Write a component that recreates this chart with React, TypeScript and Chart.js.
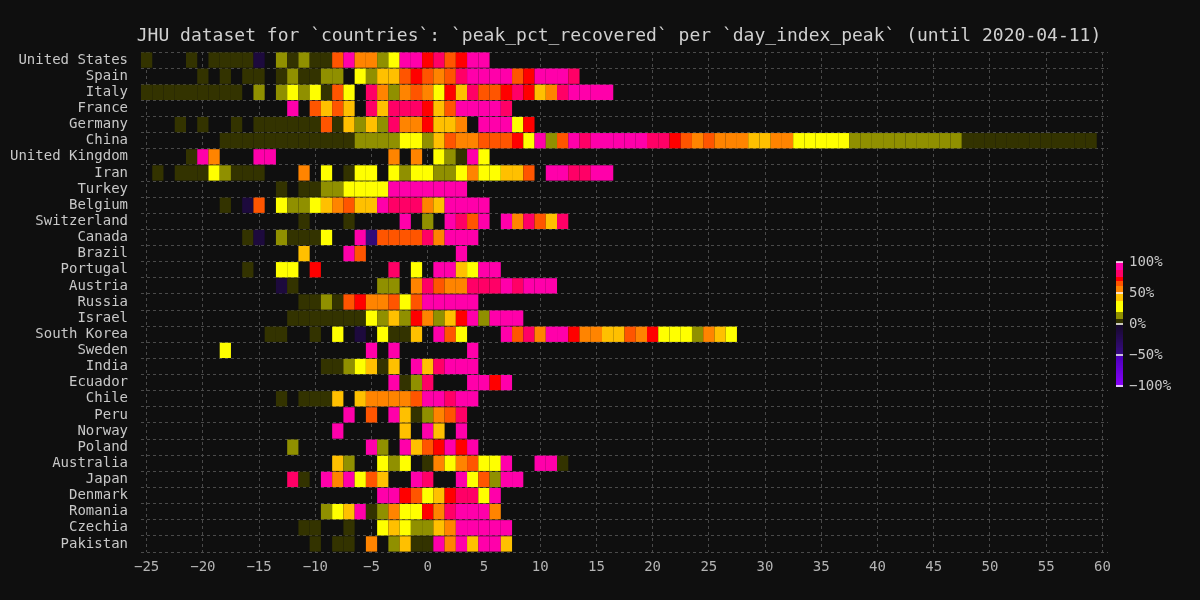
import { useEffect, useRef } from "react";
import { Chart, registerables } from "chart.js";
Chart.register(...registerables);

const _ = null;
const gap = (n: number) => new Array(n).fill(null);
const FIRST_DAY = -25;

const countries = [
  "United States", "Spain", "Italy", "France", "Germany", "China", "United Kingdom", "Iran",
  "Turkey", "Belgium", "Switzerland", "Canada", "Brazil", "Portugal", "Austria", "Russia",
  "Israel", "South Korea", "Sweden", "India", "Ecuador", "Chile", "Peru", "Norway",
  "Poland", "Australia", "Japan", "Denmark", "Romania", "Czechia", "Pakistan",
];

// peak_pct_recovered per day_index_peak, starting at day -25 (null = no data)
const unitedStates = [5,_,_,_,5,_,5,5,5,5,-10,_,15,5,15,5,5,65,100,55,55,15,30,100,100,75,85,65,75,100,100];
const spain = [_,_,_,_,_,5,_,5,_,5,5,_,5,15,5,5,15,15,_,30,15,45,45,65,75,65,55,65,85,100,100,100,100,65,75,100,100,100,85];
const italy = [5,5,5,5,5,5,5,5,5,_,15,_,15,30,15,30,5,65,30,_,85,55,15,55,65,55,30,75,45,85,65,65,75,85,75,45,55,85,100,100,100,100];
const france = [...gap(13),100,_,65,45,65,45,_,85,45,85,85,85,75,45,65,100,100,100,100,85];
const germany = [_,_,_,5,_,5,_,_,5,_,5,5,5,5,5,5,65,5,45,15,45,15,85,55,55,75,45,45,55,_,100,100,100,30,75];
const china = [...gap(7),5,5,5,5,5,5,5,5,5,5,5,5,15,15,15,15,30,30,15,45,65,55,55,65,65,65,75,30,100,15,65,100,85,100,100,100,100,100,85,85,75,65,55,65,55,55,55,45,45,55,55,30,30,30,30,30,15,15,15,15,15,15,15,15,15,15,5,5,5,5,5,5,5,5,5,5,5,5];
const unitedKingdom = [_,_,_,_,5,100,55,_,_,_,100,100,...gap(10),55,_,55,_,30,15,5,100,30];
const iran = [_,5,_,5,5,5,30,15,5,5,5,_,_,_,55,_,30,_,5,30,30,_,30,15,30,30,15,15,30,55,30,30,45,45,65,_,100,100,85,85,100,100];
const turkey = [...gap(12),5,_,5,5,15,15,30,30,30,30,100,100,100,100,100,100,100];
const belgium = [...gap(7),5,_,-10,65,_,30,15,15,30,45,55,65,45,45,100,85,85,85,55,45,100,100,100,100];
const switzerland = [...gap(14),5,_,_,_,5,_,_,_,_,100,_,15,_,100,85,65,100,_,100,55,85,65,45,85];
const canada = [...gap(9),5,-10,_,15,5,5,5,30,_,_,100,-40,65,65,65,65,85,55,100,100,100];
const brazil = [...gap(14),45,_,_,_,100,65,...gap(8),100];
const portugal = [...gap(9),5,_,_,30,30,_,75,...gap(6),85,_,30,_,100,100,45,30,100,100];
const austria = [...gap(12),-10,5,...gap(7),15,15,_,55,85,65,55,55,85,85,85,100,85,100,100,100];
const russia = [...gap(14),5,5,15,5,65,75,55,55,65,30,65,100,100,100,100,100];
const israel = [...gap(13),5,5,5,5,5,5,5,30,15,45,15,75,55,15,45,75,100,15,100,100,100];
const southKorea = [...gap(11),5,5,_,_,5,_,30,_,-10,_,30,5,5,45,_,100,65,30,_,_,_,100,65,85,55,100,100,75,55,55,45,45,65,55,75,30,30,30,15,55,45,30];
const sweden = [...gap(7),30,...gap(12),100,_,100,...gap(6),100];
const india = [...gap(16),5,5,15,30,45,5,45,_,100,45,85,100,100,100];
const ecuador = [...gap(22),100,5,15,85,_,_,_,100,100,75,100];
const chile = [...gap(12),5,_,5,5,5,45,_,45,55,55,55,55,65,100,100,85,100,100];
const peru = [...gap(18),100,_,65,_,100,45,5,15,55,65,85];
const norway = [...gap(17),100,_,_,_,_,_,45,_,100,45,_,100];
const poland = [...gap(13),15,...gap(6),100,15,_,100,45,65,75,100,75,100];
const australia = [...gap(17),45,15,_,_,30,15,30,_,5,55,30,55,65,30,30,100,_,_,100,100,5];
const japan = [...gap(13),85,5,_,100,55,100,30,65,45,_,_,100,85,_,_,100,30,65,15,100,100];
const denmark = [...gap(21),100,100,75,65,30,45,75,85,85,30,100];
const romania = [...gap(16),15,30,45,100,5,15,55,30,30,75,55,85,100,100,100,55];
const czechia = [...gap(14),5,5,_,_,5,_,_,30,45,30,15,15,45,55,100,100,100,100,100];
const pakistan = [...gap(15),5,_,5,5,_,55,_,15,45,5,5,100,55,100,45,100,100,45];

const series = [
  unitedStates, spain, italy, france, germany, china, unitedKingdom, iran,
  turkey, belgium, switzerland, canada, brazil, portugal, austria, russia,
  israel, southKorea, sweden, india, ecuador, chile, peru, norway,
  poland, australia, japan, denmark, romania, czechia, pakistan,
];

const xTicks = [-25, -20, -15, -10, -5, 0, 5, 10, 15, 20, 25, 30, 35, 40, 45, 50, 55, 60];
const colorbarTicks = [100, 50, 0, -50, -100];
const TITLE = "JHU dataset for `countries`: `peak_pct_recovered` per `day_index_peak` (until 2020-04-11)";

const FONT = "'DejaVu Sans Mono', monospace";
const BG = "#0f0f0f";

function hex(c: string) {
  return [parseInt(c.slice(1, 3), 16), parseInt(c.slice(3, 5), 16), parseInt(c.slice(5, 7), 16)];
}
function lerp(a: string, b: string, t: number) {
  const A = hex(a), B = hex(b);
  const r = A.map((v, i) => Math.round(v + (B[i] - v) * t));
  return `rgb(${r[0]},${r[1]},${r[2]})`;
}
function colorFor(v: number) {
  if (v < 0) {
    const t = -v / 100;
    if (t <= 0.5) return lerp("#160a2a", "#3a0a8a", t / 0.5);
    return lerp("#4a00b8", "#8c00ff", (t - 0.5) / 0.5);
  }
  if (v < 9) return "#333300";
  if (v < 20) return "#909000";
  if (v < 39) return "#ffff00";
  if (v < 50) return "#ffc000";
  if (v < 62) return "#ff8400";
  if (v < 71) return "#ff5500";
  if (v < 78) return "#ff0000";
  if (v < 89) return "#ff0066";
  return "#ff00aa";
}

export default function App() {
  const ref = useRef<HTMLCanvasElement | null>(null);
  useEffect(() => {
    document.body.style.margin = "0";
    document.body.style.background = BG;
    const canvas = ref.current;
    if (!canvas) return;

    const cells: { x: number[]; y: string; v: number }[] = [];
    series.forEach((vals, ci) => {
      vals.forEach((v, i) => {
        if (v === null || v === undefined) return;
        const d = FIRST_DAY + i;
        cells.push({ x: [d - 0.5, d + 0.5], y: countries[ci], v: v as number });
      });
    });

    const bgPlugin = {
      id: "bg",
      beforeDraw(chart: any) {
        const c = chart.ctx;
        c.save();
        c.fillStyle = BG;
        c.fillRect(0, 0, chart.width, chart.height);
        c.restore();
      },
    };

    const decorPlugin = {
      id: "decor",
      afterDraw(chart: any) {
        const c = chart.ctx;
        c.save();
        // title
        c.fillStyle = "#d0d0d0";
        c.font = `18px ${FONT}`;
        c.textAlign = "center";
        c.textBaseline = "middle";
        c.fillText(TITLE, 619, 36);
        // colorbar
        const cbX = 1116, cbW = 7, cbTop = 262, cbBottom = 386;
        const yOf = (p: number) => cbTop + ((100 - p) / 200) * (cbBottom - cbTop);
        for (let p = -100; p < 100; p++) {
          c.fillStyle = colorFor(p + 0.5);
          const y1 = yOf(p + 1), y2 = yOf(p);
          c.fillRect(cbX, Math.floor(y1), cbW, Math.ceil(y2 - y1) + 1);
        }
        c.strokeStyle = "#ffffff";
        c.lineWidth = 1.5;
        c.fillStyle = "#c8c8c8";
        c.font = `14px ${FONT}`;
        c.textAlign = "left";
        for (const t of colorbarTicks) {
          const y = yOf(t);
          c.beginPath();
          c.moveTo(cbX, y);
          c.lineTo(cbX + cbW, y);
          c.stroke();
          c.fillText(`${t}%`.replace("-", "\u2212"), cbX + cbW + 6, y);
        }
        c.restore();
      },
    };

    const chart = new Chart(canvas, {
      type: "bar",
      data: {
        labels: countries,
        datasets: [
          {
            data: cells.map((c) => ({ x: c.x, y: c.y })) as any,
            backgroundColor: cells.map((c) => colorFor(c.v)),
            borderWidth: 0,
            barPercentage: 0.95,
            categoryPercentage: 1,
          },
        ],
      },
      options: {
        indexAxis: "y",
        animation: false,
        responsive: false,
        events: [],
        layout: { padding: { top: 52, right: 92, left: 0, bottom: 0 } },
        plugins: {
          legend: { display: false },
          tooltip: { enabled: false },
          title: { display: false },
        },
        scales: {
          x: {
            type: "linear",
            min: -25.5,
            max: 60.5,
            afterBuildTicks: (s: any) => {
              s.ticks = xTicks.map((v) => ({ value: v }));
            },
            afterFit: (s: any) => {
              s.height = 48;
            },
            grid: { color: "#4a4a4a", drawTicks: false, lineWidth: 1 },
            border: { display: false, dash: [3, 3] },
            ticks: {
              color: "#b4b4b4",
              font: { family: FONT, size: 14 },
              padding: 7,
              callback: (v: any) => String(v).replace("-", "\u2212"),
            },
          },
          y: {
            type: "category",
            offset: true,
            grid: { offset: true, color: "#4a4a4a", drawTicks: false, lineWidth: 1 },
            border: { display: false, dash: [3, 3] },
            afterFit: (s: any) => {
              s.width = 141;
            },
            ticks: {
              autoSkip: false,
              color: "#c8c8c8",
              font: { family: FONT, size: 14 },
              padding: 13,
            },
          },
        },
      } as any,
      plugins: [bgPlugin, decorPlugin],
    });
    return () => chart.destroy();
  }, []);

  return (
    <div style={{ width: 1200, height: 600, background: BG }}>
      <canvas ref={ref} width={1200} height={600} style={{ display: "block" }} />
    </div>
  );
}
